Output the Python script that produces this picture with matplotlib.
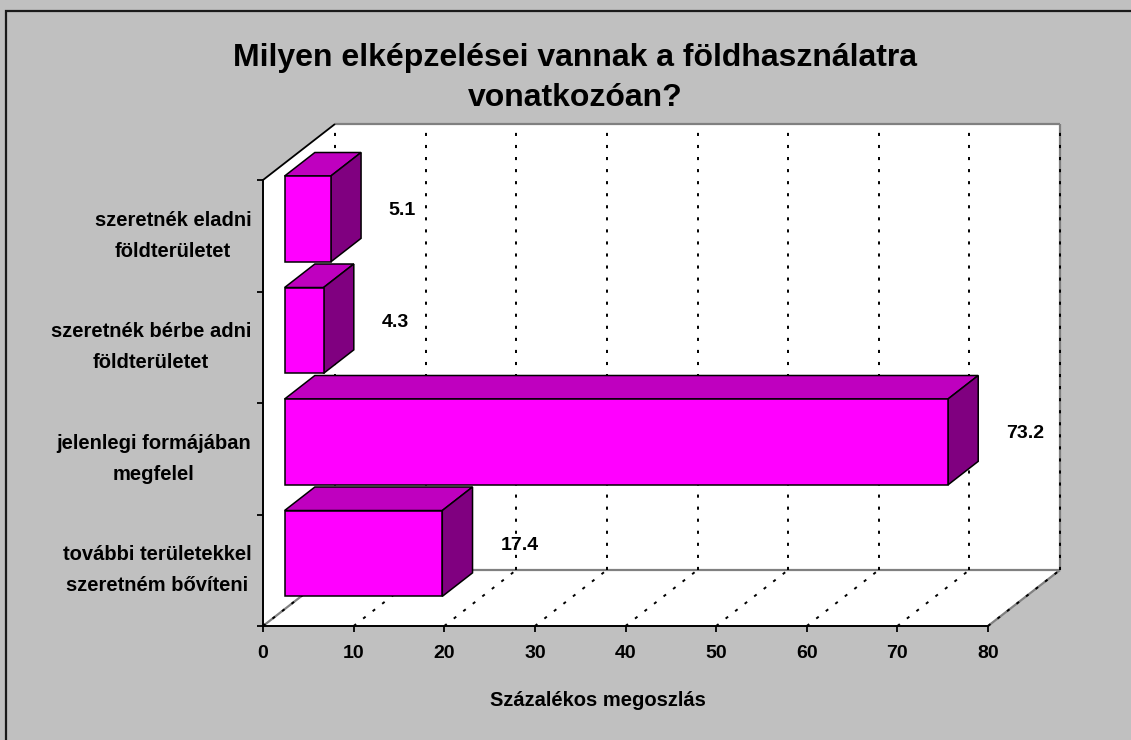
import matplotlib
matplotlib.use("Agg")
import matplotlib.pyplot as plt
from matplotlib.patches import Polygon, Rectangle

# ---- data ----
categories = [
    "szeretnék eladni\nföldterületet",
    "szeretnék bérbe adni\nföldterületet",
    "jelenlegi formájában\nmegfelel",
    "további területekkel\nszeretném bővíteni",
]
values = [5.1, 4.3, 73.2, 17.4]
value_labels = ["5.1", "4.3", "73.2", "17.4"]
x_ticks = [0, 10, 20, 30, 40, 50, 60, 70, 80]
title = "Milyen elképzelései vannak a földhasználatra\nvonatkozóan?"
x_title = "Százalékos megoszlás"

# ---- style ----
FONT = "Liberation Sans"
BG = "#C0C0C0"
FRONT = "#FF00FF"
TOP = "#BF00BF"
SIDE = "#800080"
EDGE_GRAY = "#808080"

W, H = 1131, 740
fig = plt.figure(figsize=(W / 100, H / 100), dpi=100)
fig.patch.set_facecolor(BG)

# front plane of the 3-D box
ax = fig.add_axes([263 / W, (H - 626) / H, (988 - 263) / W, (626 - 180) / H])
ax.set_facecolor("none")
n = len(categories)
ax.set_xlim(0, 80)
ax.set_ylim(0, n)

# depth of the box expressed in data units (oblique projection)
DX = 72 / 725 * 80
DY = 56 / 446 * n


def P(x, y, d):
    return (x + DX * d, y + DY * d)


def face(pts, color, z, ec="none", lw=0):
    ax.add_patch(Polygon(pts, closed=True, facecolor=color, edgecolor=ec,
                         linewidth=lw, zorder=z, clip_on=False, joinstyle="miter"))


def seg(a, b, **kw):
    ax.plot([a[0], b[0]], [a[1], b[1]], clip_on=False, solid_capstyle="butt", **kw)


# walls and floor
face([P(0, 0, 1), P(80, 0, 1), P(80, n, 1), P(0, n, 1)], "white", 1)
face([P(0, 0, 0), P(0, 0, 1), P(0, n, 1), P(0, n, 0)], "white", 1)
face([P(0, 0, 0), P(80, 0, 0), P(80, 0, 1), P(0, 0, 1)], "white", 1)

gray_kw = dict(color=EDGE_GRAY, lw=1.6, zorder=1.5)
seg(P(0, n, 1), P(80, n, 1), **gray_kw)
seg(P(80, 0, 1), P(80, n, 1), **gray_kw)
seg(P(0, 0, 1), P(80, 0, 1), **gray_kw)
seg(P(0, 0, 0), P(0, 0, 1), **gray_kw)
seg(P(80, 0, 0), P(80, 0, 1), **gray_kw)
seg(P(0, n, 0), P(0, n, 1), color="black", lw=1.3, zorder=1.6)

# dotted gridlines on the back wall and floor
dot_kw = dict(color="black", lw=1.4, linestyle=(0, (1.6, 4.6)), zorder=2)
for xv in x_ticks:
    seg(P(xv, 0, 1), P(xv, n, 1), **dot_kw)
    seg(P(xv, 0, 0), P(xv, 0, 1), **dot_kw)

# 3-D bars
BAR_FRAC = 0.77
D0, D1 = 0.30, 0.72
edge = dict(ec="black", lw=1.1)
for i in range(n - 1, -1, -1):
    v = values[i]
    yc = n - i - 0.5
    y0, y1 = yc - BAR_FRAC / 2, yc + BAR_FRAC / 2
    z = 3 + (n - i) * 0.1
    face([P(0, y1, D0), P(v, y1, D0), P(v, y1, D1), P(0, y1, D1)], TOP, z, **edge)
    face([P(v, y0, D0), P(v, y0, D1), P(v, y1, D1), P(v, y1, D0)], SIDE, z, **edge)
    face([P(0, y0, D0), P(v, y0, D0), P(v, y1, D0), P(0, y1, D0)], FRONT, z, **edge)
    ax.annotate(value_labels[i], xy=P(v, yc, D1), xytext=(20, -11),
                textcoords="offset points", ha="left", va="center",
                fontsize=14, fontweight="bold", family=FONT, zorder=6,
                annotation_clip=False)

# axes: spines, ticks, labels
for s in ("top", "right"):
    ax.spines[s].set_visible(False)
for s in ("left", "bottom"):
    ax.spines[s].set_linewidth(1.4)
    ax.spines[s].set_zorder(4)

ax.set_xticks(x_ticks)
ax.set_xticklabels([str(t) for t in x_ticks], fontsize=14, fontweight="bold", family=FONT)
ax.tick_params(axis="x", direction="out", length=4.5, width=1.3, pad=9.5)

ax.set_yticks(range(n + 1))
ax.set_yticklabels([])
ax.tick_params(axis="y", which="major", direction="out", length=4.5, width=1.3)
ax.set_yticks([n - i - 0.5 for i in range(n)], minor=True)
ax.set_yticklabels(categories, minor=True, fontsize=14.5, fontweight="bold",
                   family=FONT, linespacing=1.77)
ax.tick_params(axis="y", which="minor", length=0, pad=8.5)
for lbl in ax.get_yticklabels(minor=True):
    lbl.set_multialignment("center")
    lbl.set_verticalalignment("center")

ax.set_xlabel(x_title, fontsize=14.5, fontweight="bold", family=FONT)
ax.xaxis.set_label_coords((598 - 263) / (988 - 263), -(700 - 626) / (626 - 180))
ax.xaxis.label.set_va("center")

fig.text(575 / W, 1 - 78 / H, title, ha="center", va="center", fontsize=23,
         fontweight="bold", family=FONT, linespacing=1.42)

# chart-area frame
fig.patches.append(Rectangle((6 / W, -0.1), 1.2, (H - 11) / H + 0.1,
                             transform=fig.transFigure, fill=False,
                             edgecolor="#1a1a1a", linewidth=1.6, zorder=0))

fig.savefig("out.png", dpi=100, facecolor=BG)
